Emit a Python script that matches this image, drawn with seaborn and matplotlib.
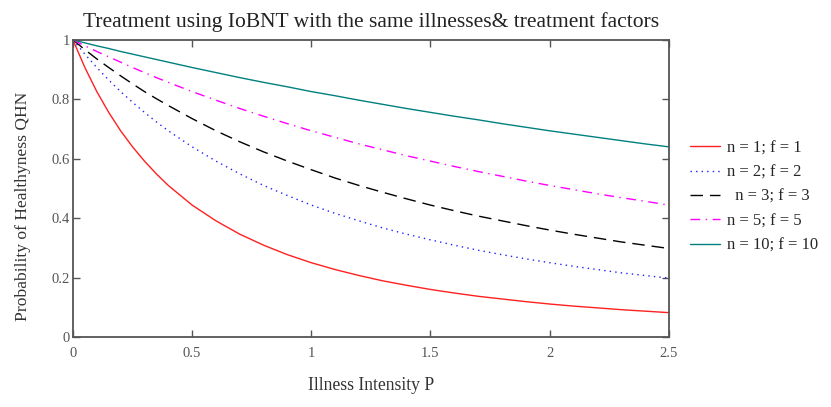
import numpy as np
import pandas as pd
import matplotlib
matplotlib.use("Agg")
import matplotlib.pyplot as plt
import seaborn as sns

P = [0.0, 0.05, 0.1, 0.15, 0.2, 0.25, 0.3, 0.35, 0.4, 0.5, 0.6, 0.7, 0.8, 0.9,
     1.0, 1.1, 1.2, 1.3, 1.4, 1.5, 1.6, 1.7, 1.8, 1.9, 2.0, 2.1, 2.2, 2.3,
     2.4, 2.5]

q_n1 = [1.0, 0.907, 0.826, 0.756, 0.694, 0.640, 0.592, 0.549, 0.510, 0.444,
        0.391, 0.346, 0.309, 0.277, 0.250, 0.227, 0.207, 0.189, 0.174, 0.160,
        0.148, 0.137, 0.128, 0.119, 0.111, 0.104, 0.098, 0.092, 0.087, 0.082]
q_n2 = [1.0, 0.952, 0.907, 0.865, 0.826, 0.790, 0.756, 0.724, 0.694, 0.640,
        0.592, 0.549, 0.510, 0.476, 0.444, 0.416, 0.391, 0.367, 0.346, 0.327,
        0.309, 0.292, 0.277, 0.263, 0.250, 0.238, 0.227, 0.216, 0.207, 0.198]
q_n3 = [1.0, 0.967, 0.936, 0.907, 0.879, 0.852, 0.826, 0.802, 0.779, 0.735,
        0.694, 0.657, 0.623, 0.592, 0.563, 0.535, 0.510, 0.487, 0.465, 0.444,
        0.425, 0.407, 0.391, 0.375, 0.360, 0.346, 0.333, 0.320, 0.309, 0.298]
q_n5 = [1.0, 0.980, 0.961, 0.943, 0.925, 0.907, 0.890, 0.873, 0.857, 0.826,
        0.797, 0.769, 0.743, 0.718, 0.694, 0.672, 0.650, 0.630, 0.610, 0.592,
        0.574, 0.557, 0.541, 0.525, 0.510, 0.496, 0.482, 0.469, 0.457, 0.444]
q_n10 = [1.0, 0.990, 0.980, 0.971, 0.961, 0.952, 0.943, 0.934, 0.925, 0.907,
         0.890, 0.873, 0.857, 0.842, 0.826, 0.812, 0.797, 0.783, 0.769, 0.756,
         0.743, 0.731, 0.718, 0.706, 0.694, 0.683, 0.672, 0.661, 0.650, 0.640]

labels = ["n = 1; f = 1", "n = 2; f = 2", "  n = 3; f = 3",
          "n = 5; f = 5", "n = 10; f = 10"]
series = [q_n1, q_n2, q_n3, q_n5, q_n10]

x_ticks = [0, 0.5, 1, 1.5, 2, 2.5]
x_tick_labels = ["0", "0.5", "1", "1.5", "2", "2.5"]
y_ticks = [0, 0.2, 0.4, 0.6, 0.8, 1.0]
y_tick_labels = ["0", "0.2", "0.4", "0.6", "0.8", "1"]

colors = ["#ff2020", "#2020ff", "#000000", "#ff00ff", "#008080"]
styles = ["-", (0, (1, 3)), (0, (9, 5)), (0, (7, 4, 1, 4)), "-"]

sns.set_style("ticks")
plt.rcParams["font.family"] = ["Liberation Serif", "DejaVu Serif"]

fig = plt.figure(figsize=(8.31, 4.07), dpi=100)
ax = fig.add_axes([0.0878, 0.172, 0.717, 0.730])

for lab, vals, c, ls in zip(labels, series, colors, styles):
    df = pd.DataFrame({"P": P, "Q": vals})
    sns.lineplot(data=df, x="P", y="Q", ax=ax, color=c, linestyle=ls,
                 linewidth=1.0, label=lab)

ax.set_xlim(0, 2.5)
ax.set_ylim(0, 1.0)
ax.set_xticks(x_ticks)
ax.set_xticklabels(x_tick_labels)
ax.set_yticks(y_ticks)
ax.set_yticklabels(y_tick_labels)
ax.tick_params(direction="in", length=5, width=1, colors="#555555",
               labelsize=10.5, top=True, right=True, labelcolor="#555555")
ax.tick_params(axis="x", pad=7)
ax.tick_params(axis="y", pad=2)
for s in ax.spines.values():
    s.set_color("#555555")
    s.set_linewidth(1.3)
    s.set_visible(True)

ax.set_title("Treatment using IoBNT with the same illnesses& treatment factors",
             fontsize=15.5, color="#222222", pad=9)
ax.set_xlabel("Illness Intensity P", fontsize=12.7, color="#333333")
ax.set_ylabel("Probability of Healthyness QHN", fontsize=12.6, color="#333333")
ax.xaxis.set_label_coords(0.5, -0.135)
ax.yaxis.set_label_coords(-0.07, 0.44)

leg = ax.legend(loc="upper left", bbox_to_anchor=(1.025, 0.685), frameon=False,
                fontsize=12, handlelength=1.8, handletextpad=0.4,
                labelspacing=0.5, borderaxespad=0)

fig.savefig("out.png", dpi=100)
